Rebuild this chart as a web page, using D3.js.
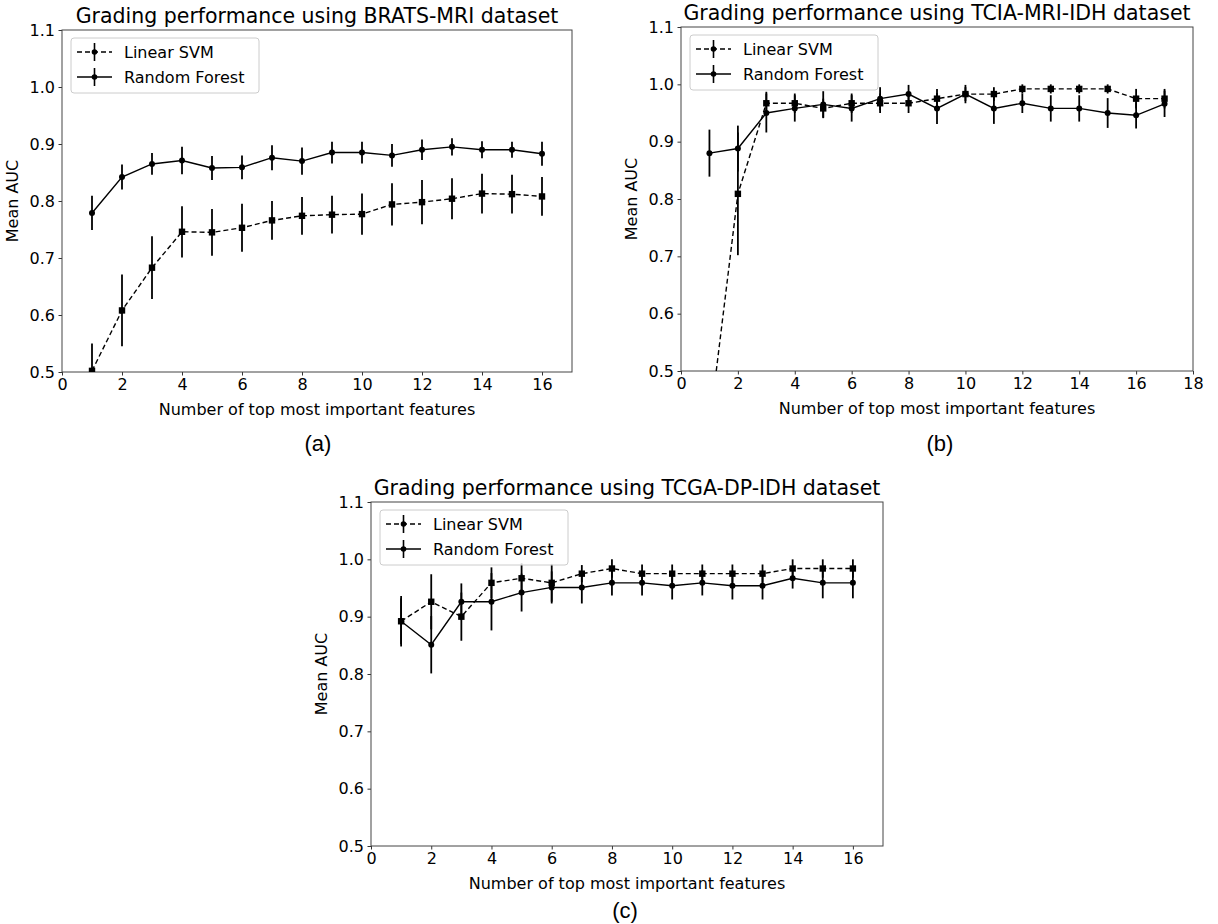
<!DOCTYPE html>
<html>
<head>
<meta charset="utf-8">
<script src="https://cdn.jsdelivr.net/npm/d3@7"></script>
<style>
  body { margin: 0; background: #fff; }
  text { font-family: "DejaVu Sans", sans-serif; fill: #000; }
</style>
</head>
<body>
<div id="vis-holder"></div>
<script>
// values
const featA = [1, 2, 3, 4, 5, 6, 7, 8, 9, 10, 11, 12, 13, 14, 15, 16];
const svmA = [0.502, 0.608, 0.683, 0.746, 0.745, 0.753, 0.766, 0.774, 0.776, 0.777, 0.794, 0.798, 0.804, 0.813, 0.812, 0.808];
const svmErrA = [0.048, 0.063, 0.055, 0.045, 0.041, 0.042, 0.034, 0.033, 0.033, 0.036, 0.037, 0.039, 0.036, 0.035, 0.034, 0.034];
const rfA = [0.779, 0.842, 0.865, 0.871, 0.858, 0.859, 0.876, 0.870, 0.885, 0.885, 0.880, 0.890, 0.895, 0.890, 0.890, 0.883];
const rfErrA = [0.030, 0.022, 0.019, 0.024, 0.021, 0.021, 0.022, 0.024, 0.019, 0.019, 0.020, 0.018, 0.015, 0.015, 0.014, 0.021];

const featB = [1, 2, 3, 4, 5, 6, 7, 8, 9, 10, 11, 12, 13, 14, 15, 16, 17];
const svmB = [0.403, 0.809, 0.967, 0.967, 0.958, 0.967, 0.967, 0.967, 0.975, 0.983, 0.983, 0.992, 0.992, 0.992, 0.992, 0.975, 0.975];
const svmErrB = [0.050, 0.107, 0.020, 0.017, 0.017, 0.017, 0.017, 0.017, 0.017, 0.012, 0.012, 0.008, 0.008, 0.008, 0.008, 0.017, 0.017];
const rfB = [0.880, 0.888, 0.950, 0.958, 0.965, 0.958, 0.975, 0.983, 0.958, 0.983, 0.958, 0.967, 0.958, 0.958, 0.950, 0.946, 0.966];
const rfErrB = [0.041, 0.040, 0.034, 0.023, 0.023, 0.023, 0.020, 0.016, 0.027, 0.016, 0.027, 0.017, 0.023, 0.023, 0.026, 0.023, 0.023];

const featC = [1, 2, 3, 4, 5, 6, 7, 8, 9, 10, 11, 12, 13, 14, 15, 16];
const svmC = [0.892, 0.926, 0.900, 0.959, 0.967, 0.959, 0.975, 0.984, 0.975, 0.975, 0.975, 0.975, 0.975, 0.984, 0.984, 0.984];
const svmErrC = [0.040, 0.048, 0.042, 0.027, 0.026, 0.033, 0.015, 0.016, 0.016, 0.016, 0.016, 0.016, 0.016, 0.016, 0.016, 0.016];
const rfC = [0.892, 0.851, 0.926, 0.926, 0.942, 0.951, 0.951, 0.959, 0.959, 0.954, 0.959, 0.954, 0.954, 0.967, 0.959, 0.959];
const rfErrC = [0.044, 0.050, 0.032, 0.050, 0.033, 0.028, 0.028, 0.022, 0.022, 0.024, 0.022, 0.024, 0.024, 0.018, 0.027, 0.027];

const yTicks = [0.5, 0.6, 0.7, 0.8, 0.9, 1.0, 1.1];
const xTicks16 = [0, 2, 4, 6, 8, 10, 12, 14, 16];
const xTicks18 = [0, 2, 4, 6, 8, 10, 12, 14, 16, 18];
const seriesNames = ["Linear SVM", "Random Forest"];

const width = 1218, height = 924;

const svg = d3.select("#vis-holder")
    .append("svg")
    .attr("width", width)
    .attr("height", height);

svg.append("rect").attr("width", width).attr("height", height).attr("fill", "#fff");

const panels = [
    { id: "a", title: "Grading performance using BRATS-MRI dataset", x0: 62, x1: 572, y0: 30, y1: 372,
      xmax: 17, xticks: xTicks16, feat: featA, svm: svmA, svmErr: svmErrA, rf: rfA, rfErr: rfErrA, tag: "(a)", tagX: 318, tagY: 451 },
    { id: "b", title: "Grading performance using TCIA-MRI-IDH dataset", x0: 681, x1: 1193, y0: 27, y1: 371,
      xmax: 18, xticks: xTicks18, feat: featB, svm: svmB, svmErr: svmErrB, rf: rfB, rfErr: rfErrB, tag: "(b)", tagX: 940, tagY: 451 },
    { id: "c", title: "Grading performance using TCGA-DP-IDH dataset", x0: 371, x1: 883, y0: 502, y1: 846,
      xmax: 17, xticks: xTicks16, feat: featC, svm: svmC, svmErr: svmErrC, rf: rfC, rfErr: rfErrC, tag: "(c)", tagX: 625, tagY: 918 }
];

panels.forEach(drawPanel);

function drawPanel(p) {
    const x = d3.scaleLinear().domain([0, p.xmax]).range([p.x0, p.x1]);
    const y = d3.scaleLinear().domain([0.5, 1.1]).range([p.y1, p.y0]);

    const g = svg.append("g");

    svg.append("clipPath").attr("id", "clip-" + p.id)
        .append("rect")
        .attr("x", p.x0).attr("y", p.y0)
        .attr("width", p.x1 - p.x0).attr("height", p.y1 - p.y0);

    // axes
    const xAxis = g.append("g")
        .attr("transform", "translate(0," + p.y1 + ")")
        .call(d3.axisBottom(x).tickValues(p.xticks).tickSize(3.5).tickPadding(3).tickFormat(d3.format("d")));
    const yAxis = g.append("g")
        .attr("transform", "translate(" + p.x0 + ",0)")
        .call(d3.axisLeft(y).tickValues(yTicks).tickSize(3.5).tickPadding(3.5).tickFormat(d3.format(".1f")));
    [xAxis, yAxis].forEach(a => {
        a.select(".domain").remove();
        a.selectAll("line").attr("stroke", "#333");
        a.selectAll("text").style("font-size", "16px").style("font-family", "DejaVu Sans");
    });

    g.append("rect")
        .attr("x", p.x0).attr("y", p.y0)
        .attr("width", p.x1 - p.x0).attr("height", p.y1 - p.y0)
        .attr("fill", "none").attr("stroke", "#444").attr("stroke-width", 1);

    g.append("text")
        .attr("x", (p.x0 + p.x1) / 2).attr("y", p.y0 - 7)
        .attr("text-anchor", "middle")
        .style("font-size", "20.5px")
        .text(p.title);

    g.append("text")
        .attr("x", (p.x0 + p.x1) / 2).attr("y", p.y1 + 43)
        .attr("text-anchor", "middle")
        .style("font-size", "16px")
        .text("Number of top most important features");

    g.append("text")
        .attr("transform", "translate(" + (p.x0 - 44) + "," + ((p.y0 + p.y1) / 2) + ") rotate(-90)")
        .attr("text-anchor", "middle")
        .style("font-size", "16px")
        .text("Mean AUC");

    g.append("text")
        .attr("x", p.tagX).attr("y", p.tagY)
        .attr("text-anchor", "middle")
        .style("font-family", "Liberation Sans, Arial, sans-serif")
        .style("font-size", "22px")
        .text(p.tag);

    const plot = g.append("g").attr("clip-path", "url(#clip-" + p.id + ")");

    const line = d3.line().x(d => x(d.f)).y(d => y(d.v));

    const series = [
        { vals: p.svm, errs: p.svmErr, dash: "5,3", marker: "square" },
        { vals: p.rf, errs: p.rfErr, dash: null, marker: "circle" }
    ];

    series.forEach(s => {
        const pts = p.feat.map((f, i) => ({ f: f, v: s.vals[i], e: s.errs[i] }));

        plot.append("path")
            .datum(pts)
            .attr("d", line)
            .attr("fill", "none")
            .attr("stroke", "#000")
            .attr("stroke-width", 1.4)
            .attr("stroke-dasharray", s.dash);

        plot.selectAll(null)
            .data(pts)
            .enter().append("line")
            .attr("x1", d => x(d.f)).attr("x2", d => x(d.f))
            .attr("y1", d => y(d.v - d.e)).attr("y2", d => y(d.v + d.e))
            .attr("stroke", "#000")
            .attr("stroke-width", 1.8);

        if (s.marker === "square") {
            plot.selectAll(null)
                .data(pts)
                .enter().append("rect")
                .attr("x", d => x(d.f) - 3.2).attr("y", d => y(d.v) - 3.2)
                .attr("width", 6.4).attr("height", 6.4)
                .attr("fill", "#000");
        } else {
            plot.selectAll(null)
                .data(pts)
                .enter().append("circle")
                .attr("cx", d => x(d.f)).attr("cy", d => y(d.v))
                .attr("r", 3)
                .attr("fill", "#000");
        }
    });

    // legend
    const lx = p.x0 + 9, ly = p.y0 + 8;
    const leg = g.append("g").attr("transform", "translate(" + lx + "," + ly + ")");
    leg.append("rect")
        .attr("width", 188).attr("height", 55)
        .attr("rx", 3)
        .attr("fill", "#fff").attr("fill-opacity", 0.8)
        .attr("stroke", "#ccc");
    seriesNames.forEach((name, i) => {
        const yy = 14 + i * 25;
        leg.append("line")
            .attr("x1", 6).attr("x2", 41).attr("y1", yy).attr("y2", yy)
            .attr("stroke", "#000").attr("stroke-width", 1.4)
            .attr("stroke-dasharray", i === 0 ? "5,3" : null);
        leg.append("line")
            .attr("x1", 23.5).attr("x2", 23.5).attr("y1", yy - 9).attr("y2", yy + 9)
            .attr("stroke", "#000").attr("stroke-width", 1.6);
        leg.append("circle")
            .attr("cx", 23.5).attr("cy", yy).attr("r", 2.8).attr("fill", "#000");
        leg.append("text")
            .attr("x", 53).attr("y", yy + 6)
            .style("font-size", "16px")
            .text(name);
    });
}
</script>
</body>
</html>
